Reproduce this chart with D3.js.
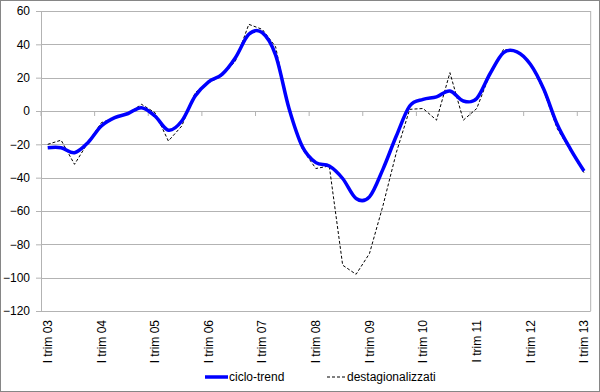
<!DOCTYPE html>
<html>
<head>
<meta charset="utf-8">
<script src="https://cdn.jsdelivr.net/npm/d3@7"></script>
<style>
    body { margin: 0; background: #fff; }
    text { font-family: "Liberation Sans", Arial, sans-serif; font-size: 12px; fill: #000; }
</style>
</head>
<body>
<svg id="chart" width="600" height="392"></svg>
<script>

// quarters from I trim 03 to I trim 13
var years = ['03', '04', '05', '06', '07', '08', '09', '10', '11', '12', '13'],
    quarters = ['I', 'II', 'III', 'IV'];

var categories = [];
years.forEach(function (y, yi) {
    quarters.forEach(function (q, qi) {
        if (yi < years.length - 1 || qi === 0) categories.push(q + ' trim ' + y);
    });
});

var cicloTrend = [-22, -22, -25, -19, -9, -4, -1.5, 2, -3, -11.5,
    -6, 9, 17.5, 22, 32, 46, 47, 33.5, 1.5, -21.5,
    -31, -33, -40.5, -52.5, -51.5, -35, -15, 3, 7, 8.5,
    12, 6, 7.5, 22.5, 35, 35.5, 28, 13, -8, -23, -36];

var destagionalizzati = [-20, -17.5, -32, -19, -7, -4, -1.5, 4, -1, -18,
    -9, 11, 17, 21, 30, 52, 49, 38.5, 0, -23,
    -34.5, -33, -92.5, -98, -85.5, -57, -25, 1, 1.5, -5.5,
    23, -5.5, 1.5, 22.5, 37, 36, 28.5, 12, -10.5, -24, -37];

var yTicks = [60, 40, 20, 0, -20, -40, -60, -80, -100, -120];

var seriesNames = ['ciclo-trend', 'destagionalizzati'];

drawChart();

function drawChart() {
    var svg = d3.select('#chart'),
        left = 41, right = 590.7, top = 11, bottom = 311,
        gridColor = '#b3b3b3';

    // outer border of the chart
    svg.append('rect')
        .attr('x', 0.5).attr('y', 0.5)
        .attr('width', 599).attr('height', 391)
        .attr('fill', 'none')
        .attr('stroke', '#868686');

    var x = d3.scalePoint().domain(categories).range([left, right]).padding(0.5),
        y = d3.scaleLinear().domain([-120, 60]).range([bottom, top]);

    // horizontal gridlines + y axis
    var yAxis = svg.append('g')
        .attr('transform', 'translate(' + left + ',0)')
        .call(d3.axisLeft(y).tickValues(yTicks).tickSize(5).tickPadding(6));
    yAxis.select('.domain').attr('stroke', gridColor);
    yAxis.selectAll('.tick line').attr('stroke', gridColor);
    yAxis.selectAll('.tick text').attr('font-size', 12).attr('font-family', null);

    svg.append('g').selectAll('line').data(yTicks)
        .enter()
        .append('line')
        .attr('x1', left).attr('x2', right)
        .attr('y1', function (d) { return Math.round(y(d)) + 0.5; })
        .attr('y2', function (d) { return Math.round(y(d)) + 0.5; })
        .attr('stroke', gridColor);

    // right border of the plot area
    svg.append('line')
        .attr('x1', right).attr('x2', right)
        .attr('y1', top).attr('y2', bottom)
        .attr('stroke', gridColor);

    // category ticks sit on the zero line, every four quarters
    var step = x.step(),
        tickIdx = d3.range(0, categories.length + 1, 4);
    svg.append('g').selectAll('line').data(tickIdx)
        .enter()
        .append('line')
        .attr('x1', function (i) { return left + i * step; })
        .attr('x2', function (i) { return left + i * step; })
        .attr('y1', Math.round(y(0)) + 0.5)
        .attr('y2', Math.round(y(0)) + 5)
        .attr('stroke', gridColor);

    // category labels along the bottom, rotated
    var labelled = categories.filter(function (c, i) { return i % 4 === 0; });
    svg.append('g').selectAll('text').data(labelled)
        .enter()
        .append('text')
        .attr('transform', function (d) {
            return 'translate(' + x(d) + ',' + (bottom + 9) + ') rotate(-90)';
        })
        .attr('text-anchor', 'end')
        .attr('dy', '0.35em')
        .text(function (d) { return d; });

    var line = d3.line()
        .x(function (d, i) { return x(categories[i]); })
        .y(function (d) { return y(d); });

    svg.append('path')
        .datum(destagionalizzati)
        .attr('d', line)
        .attr('fill', 'none')
        .attr('stroke', '#000')
        .attr('stroke-width', 1)
        .attr('stroke-dasharray', '3,2');

    svg.append('path')
        .datum(cicloTrend)
        .attr('d', line.curve(d3.curveCatmullRom.alpha(0)))
        .attr('fill', 'none')
        .attr('stroke', '#0000ff')
        .attr('stroke-width', 3.5)
        .attr('stroke-linejoin', 'round');

    // legend
    var legend = svg.append('g').attr('transform', 'translate(0,377)');
    legend.append('line')
        .attr('x1', 205).attr('x2', 228)
        .attr('stroke', '#0000ff').attr('stroke-width', 3.5);
    legend.append('text')
        .attr('x', 229).attr('dy', '0.35em')
        .text(seriesNames[0]);
    legend.append('line')
        .attr('x1', 327).attr('x2', 346)
        .attr('stroke', '#000').attr('stroke-dasharray', '3,2');
    legend.append('text')
        .attr('x', 347).attr('dy', '0.35em')
        .text(seriesNames[1]);
}
</script>
</body>
</html>
